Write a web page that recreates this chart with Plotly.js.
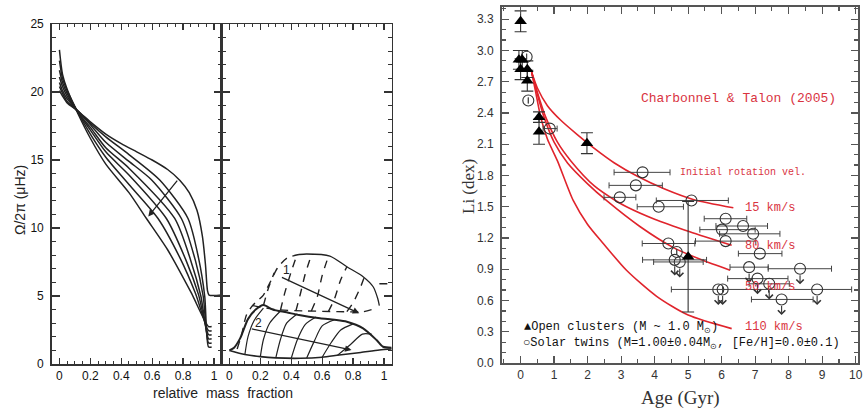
<!DOCTYPE html>
<html><head><meta charset="utf-8">
<script src="https://cdn.plot.ly/plotly-3.0.1.min.js"></script>
<style>body{margin:0;background:#fff}</style>
</head><body><div id="chart" style="width:866px;height:410px"></div>
<script>
// ---------- Left panel A: rotation profiles ----------
const profA1x = [0,0.02,0.05,0.12,0.2,0.3,0.45,0.563,0.7,0.85,0.965,0.985];
const profA1y = [23.1,21.3,20.2,18.4,16.6,14.7,12.6,10.7,8.4,5.3,2.75,2.75];
const profA2x = [0,0.02,0.05,0.12,0.2,0.3,0.45,0.638,0.78,0.88,0.965,0.985];
const profA2y = [22.3,21.0,20.1,18.5,16.9,15.2,13.2,10.7,7.8,5.2,2.45,2.45];
const profA3x = [0,0.02,0.05,0.12,0.2,0.3,0.45,0.692,0.82,0.9,0.965,0.985];
const profA3y = [21.6,20.7,19.9,18.5,17.2,15.6,13.9,10.7,7.6,5.1,2.15,2.15];
const profA4x = [0,0.02,0.05,0.12,0.2,0.3,0.45,0.746,0.85,0.915,0.965,0.985];
const profA4y = [21.1,20.4,19.7,18.5,17.4,15.9,14.4,10.7,7.6,5.0,1.85,1.85];
const profA5x = [0,0.02,0.05,0.12,0.2,0.3,0.45,0.6,0.789,0.88,0.93,0.965,0.985];
const profA5y = [20.7,20.1,19.5,18.6,17.6,16.3,14.9,13.5,10.7,7.6,5.0,1.55,1.55];
const profA6x = [0,0.02,0.05,0.12,0.2,0.3,0.45,0.649,0.832,0.9,0.94,0.965,0.985];
const profA6y = [20.4,19.9,19.3,18.6,17.7,16.7,15.4,13.53,10.7,7.8,5.0,1.25,1.25];
const profA7x = [0,0.02,0.05,0.12,0.2,0.3,0.4,0.5,0.6,0.7,0.78,0.84,0.89,0.925,0.945,0.958,0.968,1.05];
const profA7y = [20.1,19.7,19.2,18.6,17.8,16.9,16.2,15.6,15.0,14.3,13.5,12.6,11.3,9.4,7.3,5.4,5.07,5.07];
const arrowA = {tailX:0.77, tailY:13.6, headX:0.575, headY:10.85};

// ---------- Left panel B ----------
// group 2 (solid)
const solEnvX = [0.0,0.03,0.07,0.12,0.17,0.22,0.28,0.37,0.45,0.586,0.68,0.76,0.865,0.952,0.994,1.05];
const solEnvY = [1.0,1.2,1.9,3.3,4.0,4.34,4.0,3.8,3.6,3.36,3.25,3.11,2.62,1.76,1.27,1.2];
const solBaseX = [0.0,0.1,0.2,0.3,0.46,0.6,0.71,0.85,0.97,1.05];
const solBaseY = [1.0,0.7,0.54,0.45,0.42,0.5,0.66,0.85,1.03,1.1];
const solIn1x = [0.1,0.12,0.16,0.22], solIn1y = [0.7,2.0,3.2,4.1];
const solIn2x = [0.2,0.22,0.26,0.33], solIn2y = [0.54,1.8,3.0,3.9];
const solIn3x = [0.3,0.33,0.37,0.44], solIn3y = [0.45,1.8,3.0,3.7];
const solIn4x = [0.4,0.44,0.49,0.56], solIn4y = [0.42,1.8,2.9,3.45];
const solIn5x = [0.5,0.55,0.6,0.68], solIn5y = [0.44,1.7,2.8,3.25];
const solIn6x = [0.6,0.66,0.72,0.8], solIn6y = [0.5,1.6,2.5,2.95];
const solIn7x = [0.7,0.78,0.86,0.92], solIn7y = [0.65,1.4,2.2,2.2];
// group 1 (dashed)
const dshEnvX = [0.05,0.08,0.11,0.15,0.22,0.26,0.31,0.37,0.45];
const dshEnvY = [1.1,2.2,3.6,4.3,5.07,5.93,7.04,7.77,8.05];
const topEnvX = [0.45,0.5,0.65,0.76,0.865,0.93,0.96,0.97];
const topEnvY = [8.05,8.09,7.94,7.15,6.42,5.68,4.8,4.3];
const dshLowX = [0.15,0.3,0.5,0.7,0.865,0.95];
const dshLowY = [4.3,4.0,3.9,3.85,3.85,4.1];
const dshIn1x = [0.22,0.25,0.29], dshIn1y = [4.3,5.5,6.7];
const dshIn2x = [0.33,0.36,0.4,0.43], dshIn2y = [3.95,5.3,6.8,7.8];
const dshIn3x = [0.43,0.46,0.49,0.53], dshIn3y = [3.9,5.2,6.6,8.0];
const dshIn4x = [0.53,0.57,0.6,0.64], dshIn4y = [3.9,5.0,6.5,7.9];
const dshIn5x = [0.64,0.68,0.72,0.76], dshIn5y = [3.85,4.8,6.2,7.15];
const dshIn6x = [0.76,0.8,0.85,0.87], dshIn6y = [3.85,4.5,5.7,6.3];
const dshRightX = [0.97,1.05], dshRightY = [5.9,5.9];
const arrow1 = {tailX:0.33, tailY:6.42, headX:0.84, headY:3.73};
const arrow2 = {tailX:0.135, tailY:2.6, headX:0.79, headY:1.03};

// ---------- Right panel: Li vs age ----------
const clusterAge = [0.0,-0.05,0.05,0.0,0.2,0.2,0.55,0.55,1.98,5.0];
const clusterLi  = [3.28,2.91,2.91,2.82,2.82,2.71,2.36,2.22,2.11,1.02];
const clusterErr = [0.1,0.09,0.09,0.1,0.08,0.1,0.05,0.12,0.1,0.53];

const twinAge = [0.18,0.23,0.87,3.64,3.44,2.96,4.12,5.1,6.12,6.64,6.01,6.94,6.12,7.14,4.41,4.66,4.6,4.75,6.82,8.34,7.07,7.42,5.9,6.03,8.85,7.79];
const twinLi  = [2.94,2.52,2.25,1.83,1.705,1.59,1.50,1.56,1.385,1.315,1.28,1.24,1.17,1.05,1.147,1.066,0.99,0.97,0.92,0.905,0.81,0.76,0.706,0.706,0.706,0.61];
const twinErrMinus = [0,0,0.2,0.85,0.8,0.47,0.64,1.05,0.64,0.81,0.66,1.0,0.9,0.64,0.78,0,0.96,0.78,0.57,0.95,0.89,0.6,1.4,0,1.45,0.9];
const twinErrPlus  = [0,0,0.22,0.82,0.79,0.48,0.74,1.1,0.63,0.73,0.99,0.8,0.9,0.66,0.79,0,0.95,0.7,0.57,0.94,0.91,0.6,1.5,0,1.03,0.94];
const twinUpperLimit = [0,0,0,0,0,0,0,0,0,0,0,0,0,0,0,0,1,1,1,1,1,1,1,1,1,1];

const model15Age  = [0.33,0.5,0.8,1.2,1.7,2.2,2.8,3.5,4.3,5.15,6.35];
const model15Li   = [2.79,2.64,2.47,2.33,2.19,2.06,1.92,1.79,1.67,1.57,1.49];
const model80Age  = [0.33,0.5,0.75,1.1,1.5,2.2,2.83,3.16,4.0,5.05,6.3];
const model80Li   = [2.79,2.6,2.36,2.12,1.94,1.7,1.56,1.50,1.38,1.26,1.13];
const model50Age  = [0.33,0.5,0.7,1.0,1.4,2.0,2.56,3.56,4.55,5.4,6.25];
const model50Li   = [2.79,2.58,2.36,2.12,1.92,1.72,1.56,1.31,1.11,0.99,0.89];
const model110Age = [0.33,0.45,0.6,0.8,1.1,1.57,2.0,2.46,3.16,4.06,5.0,6.3];
const model110Li  = [2.79,2.6,2.36,2.15,1.94,1.56,1.33,1.15,0.89,0.64,0.46,0.33];
const modelLabels = ['15 km/s','80 km/s','50 km/s','110 km/s'];
const modelLabelLi = [1.49,1.12,0.73,0.35];

// ---------- build ----------
const ink = '#222';
const red = '#e0242c';
const redText = '#d9343f';
const traces = [];
function line(x, y, xa, ya, opt) {
  traces.push({type:'scatter', mode:'lines', x:x, y:y, xaxis:xa, yaxis:ya,
    line:Object.assign({color:ink, width:1.5, shape:'spline', smoothing:0.7}, opt||{}),
    hoverinfo:'skip', showlegend:false});
}
[[profA1x,profA1y],[profA2x,profA2y],[profA3x,profA3y],[profA4x,profA4y],[profA5x,profA5y],[profA6x,profA6y],[profA7x,profA7y]]
  .forEach(p => line(p[0], p[1], 'x', 'y'));
line(solEnvX, solEnvY, 'x2', 'y2', {width:2});
line(solBaseX, solBaseY, 'x2', 'y2', {width:1.6});
[[solIn1x,solIn1y],[solIn2x,solIn2y],[solIn3x,solIn3y],[solIn4x,solIn4y],[solIn5x,solIn5y],[solIn6x,solIn6y],[solIn7x,solIn7y]]
  .forEach(p => line(p[0], p[1], 'x2', 'y2', {width:1.2}));
line(dshEnvX, dshEnvY, 'x2', 'y2', {dash:'8px,6px', width:1.4});
line(topEnvX, topEnvY, 'x2', 'y2', {width:1.3});
line(dshLowX, dshLowY, 'x2', 'y2', {dash:'8px,6px', width:1.3});
[[dshIn1x,dshIn1y],[dshIn2x,dshIn2y],[dshIn3x,dshIn3y],[dshIn4x,dshIn4y],[dshIn5x,dshIn5y],[dshIn6x,dshIn6y],[dshRightX,dshRightY]]
  .forEach(p => line(p[0], p[1], 'x2', 'y2', {dash:'8px,7px', width:1.4}));

// right panel
[[model15Age,model15Li],[model80Age,model80Li],[model50Age,model50Li],[model110Age,model110Li]]
  .forEach(p => line(p[0], p[1], 'x3', 'y3', {color:red, width:1.6}));

traces.push({type:'scatter', mode:'markers', x:twinAge, y:twinLi, xaxis:'x3', yaxis:'y3',
  marker:{symbol:'circle-open', size:11, color:'#333', line:{width:1.1, color:'#333'}},
  error_x:{type:'data', symmetric:false, array:twinErrPlus, arrayminus:twinErrMinus, color:'#444', thickness:1, width:3},
  hoverinfo:'skip', showlegend:false});
traces.push({type:'scatter', mode:'markers', x:clusterAge, y:clusterLi, xaxis:'x3', yaxis:'y3',
  marker:{symbol:'triangle-up', size:11, color:'#000'},
  error_y:{type:'data', array:clusterErr, color:'#333', thickness:1.1, width:6},
  hoverinfo:'skip', showlegend:false});

const annotations = [];
function arrowAnn(a, xr, yr) {
  annotations.push({x:a.headX, y:a.headY, ax:a.tailX, ay:a.tailY, xref:xr, yref:yr, axref:xr, ayref:yr,
    showarrow:true, arrowhead:2, arrowsize:1, arrowwidth:1.3, arrowcolor:ink, text:''});
}
arrowAnn(arrowA, 'x', 'y');
arrowAnn(arrow1, 'x2', 'y2');
arrowAnn(arrow2, 'x2', 'y2');
annotations.push({x:0.37, y:6.9, xref:'x2', yref:'y2', text:'1', showarrow:false, font:{family:'Liberation Sans', size:12, color:ink}});
annotations.push({x:0.19, y:3.05, xref:'x2', yref:'y2', text:'2', showarrow:false, font:{family:'Liberation Sans', size:12, color:ink}});
twinAge.forEach((a, i) => {
  if (twinUpperLimit[i]) {
    annotations.push({x:a, y:twinLi[i]-0.15, ax:a, ay:twinLi[i], xref:'x3', yref:'y3', axref:'x3', ayref:'y3',
      showarrow:true, arrowhead:4, arrowsize:1.3, arrowwidth:1.1, arrowcolor:'#333', startstandoff:5, text:''});
  }
});
modelLabels.forEach((t, i) => annotations.push({x:6.65, y:modelLabelLi[i], xref:'x3', yref:'y3', text:t, xanchor:'left', yanchor:'middle', showarrow:false,
  font:{family:'Liberation Mono', size:12, color:redText}}));
annotations.push({x:6.65, y:1.83, xref:'x3', yref:'y3', text:'Initial rotation vel.', xanchor:'center', yanchor:'middle', showarrow:false,
  font:{family:'Liberation Mono', size:10, color:redText}});
annotations.push({x:6.5, y:2.54, xref:'x3', yref:'y3', text:'Charbonnel &amp; Talon (2005)', xanchor:'center', yanchor:'middle', showarrow:false,
  font:{family:'Liberation Mono', size:13, color:redText}});
annotations.push({x:0.05, y:0.34, xref:'x3', yref:'y3', text:'▲Open clusters (M ~ 1.0 M<sub>⊙</sub>)', xanchor:'left', yanchor:'middle', showarrow:false,
  font:{family:'Liberation Mono', size:12, color:'#111'}});
annotations.push({x:0.0, y:0.18, xref:'x3', yref:'y3', text:'○Solar twins (M=1.00±0.04M<sub>⊙</sub>, [Fe/H]=0.0±0.1)', xanchor:'left', yanchor:'middle', showarrow:false,
  font:{family:'Liberation Mono', size:12, color:'#111'}});
// titles
annotations.push({x:20/866, y:(410-200)/410, xref:'paper', yref:'paper', xanchor:'center', yanchor:'middle', text:'Ω/2π (μHz)', textangle:-90, showarrow:false,
  font:{family:'Liberation Sans', size:14, color:ink}});
annotations.push({x:223/866, y:(410-393)/410, xref:'paper', yref:'paper', xanchor:'center', yanchor:'middle', text:'relative  mass  fraction', showarrow:false,
  font:{family:'Liberation Sans', size:14, color:ink}});
annotations.push({x:469/866, y:(410-187)/410, xref:'paper', yref:'paper', xanchor:'center', yanchor:'middle', text:'Li (dex)', textangle:-90, showarrow:false,
  font:{family:'Liberation Serif', size:17, color:'#333'}});
annotations.push({x:680/866, y:(410-398)/410, xref:'paper', yref:'paper', xanchor:'center', yanchor:'middle', text:'Age (Gyr)', showarrow:false,
  font:{family:'Liberation Serif', size:19, color:'#333'}});

const axBase = {showgrid:false, zeroline:false, showline:true, linecolor:'#333', linewidth:1.5, mirror:'ticks',
  ticks:'inside', tickcolor:'#333', tickwidth:1.2};
const leftTickFont = {family:'Liberation Sans', size:12, color:'#111'};
const yDom = [(410-364)/410, (410-24)/410];
const layout = {
  width:866, height:410, margin:{l:0,r:0,t:0,b:0}, paper_bgcolor:'#fff', plot_bgcolor:'#fff', showlegend:false,
  xaxis: Object.assign({}, axBase, {domain:[51.7/866, 221.7/866], range:[-0.05,1.05], anchor:'y', dtick:0.2, tick0:0, ticklen:6,
    minor:{dtick:0.05, tick0:0, ticks:'inside', ticklen:3, tickcolor:'#333', tickwidth:1}, tickfont:leftTickFont}),
  yaxis: Object.assign({}, axBase, {domain:yDom, range:[0,25], anchor:'x', dtick:5, tick0:0, ticklen:8,
    minor:{dtick:1, tick0:0, ticks:'inside', ticklen:4, tickcolor:'#333', tickwidth:1}, tickfont:leftTickFont, ticklabelstandoff:4}),
  xaxis2: Object.assign({}, axBase, {domain:[221.7/866, 391.7/866], range:[-0.05,1.05], anchor:'y2', dtick:0.2, tick0:0, ticklen:6,
    minor:{dtick:0.05, tick0:0, ticks:'inside', ticklen:3, tickcolor:'#333', tickwidth:1}, tickfont:leftTickFont}),
  yaxis2: Object.assign({}, axBase, {domain:yDom, range:[0,25], anchor:'x2', dtick:5, tick0:0, ticklen:8, showticklabels:false,
    minor:{dtick:1, tick0:0, ticks:'inside', ticklen:4, tickcolor:'#333', tickwidth:1}}),
  xaxis3: Object.assign({}, axBase, {domain:[501.5/866, 858/866], range:[-0.57,10.07], anchor:'y3', dtick:1, tick0:0, ticklen:7,
    linecolor:'#555', minor:{dtick:0.5, tick0:0, ticks:'inside', ticklen:4, tickcolor:'#555'}, tickcolor:'#555',
    tickfont:{family:'Liberation Sans', size:12, color:'#333'}}),
  yaxis3: Object.assign({}, axBase, {domain:[(410-363)/410, (410-6.7)/410], range:[0,3.42], anchor:'x3', dtick:0.3, tick0:0, ticklen:7,
    tickformat:'.1f', linecolor:'#555', tickcolor:'#555', minor:{dtick:0.1, tick0:0, ticks:'inside', ticklen:4, tickcolor:'#555'},
    tickfont:{family:'Liberation Sans', size:12, color:'#333'}, ticklabelstandoff:4}),
  annotations: annotations
};
Plotly.newPlot('chart', traces, layout, {staticPlot:true});
</script></body></html>
